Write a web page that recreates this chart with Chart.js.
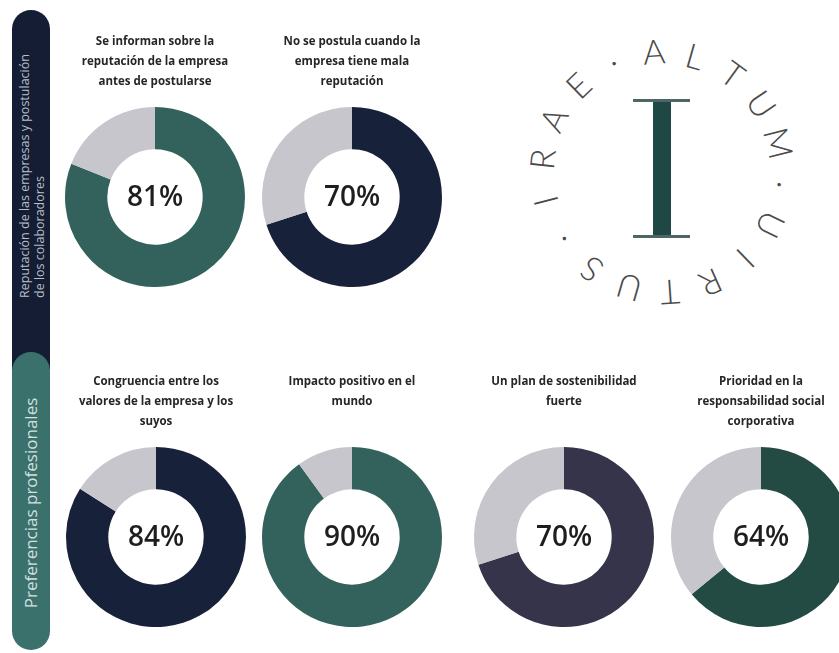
<!DOCTYPE html>
<html>
<head>
    <meta charset="utf-8">
    <title>Reputación y preferencias profesionales</title>
    <script src="https://cdn.jsdelivr.net/npm/chart.js"></script>
    <style>
        body { margin: 0; background: #ffffff; font-family: "Open Sans", Arial, sans-serif; overflow: hidden; }
        #page { position: relative; width: 839px; height: 653px; overflow: hidden; }
        .side { position: absolute; left: 12px; width: 38px; }
        #sideTop { top: 10px; height: 360px; background: #141d33; border-radius: 19px 19px 0 0; }
        #sideBottom { top: 352px; height: 298px; background: #3a716d; border-radius: 19px; }
        .sideText { position: absolute; white-space: nowrap; transform-origin: 0 0; transform: rotate(-90deg); }
        #sideTopText { left: 5px; top: 288px; color: #b9bfca; font-size: 12.5px; line-height: 15px; }
        #sideBottomText { left: 8px; top: 276px; color: #d3e0de; font-size: 17px; line-height: 22px; width: 250px; text-align: center; }
        .chartBox { position: absolute; }
        #logo { position: absolute; left: 0; top: 0; }
        .letter { position: absolute; font-family: "Lato", "DejaVu Sans", sans-serif; font-weight: 300; font-size: 34px; color: #4b4b4b; line-height: 34px; width: 36px; text-align: center; }
        .bar { position: absolute; background: #1f4744; }
        .serif { position: absolute; background: #4e6664; height: 3px; }
    </style>
</head>
<body>
<div id="page">
    <div id="sideTop" class="side">
        <div id="sideTopText" class="sideText">Reputación de las empresas y postulación<br>de los colaboradores</div>
    </div>
    <div id="sideBottom" class="side">
        <div id="sideBottomText" class="sideText">Preferencias profesionales</div>
    </div>
    <div id="logo"></div>
</div>

<script>
// Datos
const chartTitles = [
    ['Se informan sobre la', 'reputación de la empresa', 'antes de postularse'],
    ['No se postula cuando la', 'empresa tiene mala', 'reputación'],
    ['Congruencia entre los', 'valores de la empresa y los', 'suyos'],
    ['Impacto positivo en el', 'mundo'],
    ['Un plan de sostenibilidad', 'fuerte'],
    ['Prioridad en la', 'responsabilidad social', 'corporativa']
];
const sliceLabels = ['Sí', 'Resto'];
const percentValues = [81, 70, 84, 90, 70, 64];
const logoText = 'IRAE·ALTUM·UIRTUS·';

// Estilo y posiciones
const mainColors = ['#33625c', '#17223a', '#17223a', '#33625c', '#36344a', '#244a44'];
const restColor = '#c6c6cc';
const centersX = [155, 352, 156, 352, 564, 761];
const titleTops = [30, 30, 370, 370, 370, 370];

const centerText = {
    id: 'centerText',
    afterDraw(chart) {
        const arc = chart.getDatasetMeta(0).data[0];
        const ctx = chart.ctx;
        ctx.save();
        ctx.font = '600 28px "Open Sans", Arial, sans-serif';
        ctx.fillStyle = '#1e1e1e';
        ctx.textAlign = 'center';
        ctx.textBaseline = 'middle';
        ctx.fillText(chart.data.datasets[0].data[0] + '%', arc.x, arc.y + 1);
        ctx.restore();
    }
};

const page = document.getElementById('page');

percentValues.forEach((value, i) => {
    const box = document.createElement('div');
    box.className = 'chartBox';
    box.style.left = (centersX[i] - 100) + 'px';
    box.style.top = titleTops[i] + 'px';
    const canvas = document.createElement('canvas');
    canvas.width = 200;
    canvas.height = 261;
    box.appendChild(canvas);
    page.appendChild(box);

    new Chart(canvas, {
        type: 'doughnut',
        data: {
            labels: sliceLabels,
            datasets: [{
                data: [value, 100 - value],
                backgroundColor: [mainColors[i], restColor],
                borderWidth: 0
            }]
        },
        options: {
            responsive: false,
            animation: false,
            cutout: '53%',
            layout: { padding: { left: 10, right: 10 } },
            plugins: {
                legend: { display: false },
                tooltip: { enabled: false },
                title: {
                    display: true,
                    text: chartTitles[i],
                    color: '#262626',
                    font: { family: '"Open Sans", Arial, sans-serif', size: 11.5, weight: 'bold', lineHeight: '20px' },
                    padding: { top: 2, bottom: 11 + (3 - chartTitles[i].length) * 20 }
                }
            }
        },
        plugins: [centerText]
    });
});

// Logo circular
const logo = document.getElementById('logo');
const logoCx = 662, logoCy = 172, logoR = 121;
logoText.split('').forEach((ch, i) => {
    const deg = 256 + 20 * i;
    const a = deg * Math.PI / 180;
    const el = document.createElement('div');
    el.className = 'letter';
    el.textContent = ch;
    const x = logoCx + logoR * Math.sin(a);
    const y = logoCy - logoR * Math.cos(a);
    el.style.left = (x - 18) + 'px';
    el.style.top = (y - 17) + 'px';
    el.style.transform = 'rotate(' + deg + 'deg)';
    logo.appendChild(el);
});
const bar = document.createElement('div');
bar.className = 'bar';
Object.assign(bar.style, { left: '653px', top: '100px', width: '18px', height: '137px' });
logo.appendChild(bar);
[99, 235].forEach(t => {
    const s = document.createElement('div');
    s.className = 'serif';
    Object.assign(s.style, { left: '633px', top: t + 'px', width: '57px' });
    logo.appendChild(s);
});
</script>
</body>
</html>
